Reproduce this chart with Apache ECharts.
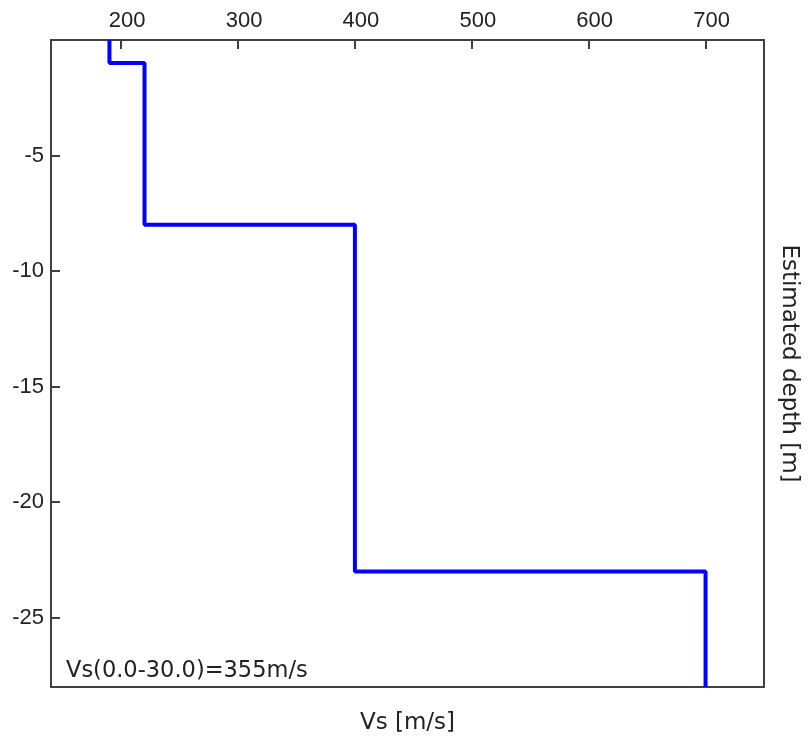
<!DOCTYPE html>
<html><head><meta charset="utf-8">
<script src="https://cdn.jsdelivr.net/npm/echarts@6/dist/echarts.min.js"></script>
<style>html,body{margin:0;padding:0;background:#fff}#c{width:808px;height:740px}</style>
</head><body><div id="c"></div>
<script>
// Layer shear-wave velocities (m/s), top to bottom
const layerVs = [190, 220, 400, 700];
// Layer boundary depths (m, negative downward)
const layerBoundaries = [0, -1, -8, -23, -28];
const xRange = [140, 750];
const yRange = [-28, 0];
const xTitle = 'Vs [m/s]';
const yTitle = 'Estimated depth [m]';
const annotation = 'Vs(0.0-30.0)=355m/s';

const points = [];
for (let i = 0; i < layerVs.length; i++) {
  points.push([layerVs[i], layerBoundaries[i]]);
  points.push([layerVs[i], layerBoundaries[i + 1]]);
}

const frameColor = '#404040';
const chart = echarts.init(document.getElementById('c'), null, {renderer: 'canvas'});
chart.setOption({
  animation: false,
  backgroundColor: '#fff',
  grid: {left: 51, right: 40, top: 40, bottom: 53, containLabel: false},
  xAxis: [{
    type: 'value', position: 'top', min: xRange[0], max: xRange[1],
    axisLine: {show: true, onZero: false, lineStyle: {color: frameColor, width: 2}},
    axisTick: {show: true, inside: true, length: 9, lineStyle: {color: frameColor, width: 2}},
    axisLabel: {fontSize: 22, fontFamily: 'Liberation Sans', color: '#222', margin: 8,
      padding: [0, 0, 0, 12],
      formatter: v => (v % 100 === 0 ? String(v) : '')},
    splitLine: {show: false}
  }, {
    type: 'value', position: 'bottom', min: xRange[0], max: xRange[1],
    axisLine: {show: true, onZero: false, lineStyle: {color: frameColor, width: 2}},
    axisTick: {show: false}, axisLabel: {show: false}, splitLine: {show: false},
    name: xTitle, nameLocation: 'middle', nameGap: 25,
    nameTextStyle: {fontSize: 23, fontFamily: 'DejaVu Sans', color: '#222'}
  }],
  yAxis: [{
    type: 'value', position: 'left', min: yRange[0], max: yRange[1],
    axisLine: {show: true, onZero: false, lineStyle: {color: frameColor, width: 2}},
    axisTick: {show: true, inside: true, length: 9, lineStyle: {color: frameColor, width: 2}},
    axisLabel: {fontSize: 22, fontFamily: 'Liberation Sans', color: '#222', margin: 7,
      formatter: v => ((v % 5 === 0 && v < 0) ? String(v) : '')},
    splitLine: {show: false}
  }, {
    type: 'value', position: 'right', min: yRange[0], max: yRange[1],
    axisLine: {show: true, onZero: false, lineStyle: {color: frameColor, width: 2}},
    axisTick: {show: false}, axisLabel: {show: false}, splitLine: {show: false},
    name: yTitle, nameLocation: 'middle', nameGap: 13, nameRotate: -90,
    nameTextStyle: {fontSize: 23, fontFamily: 'DejaVu Sans', color: '#222'}
  }],
  graphic: [{
    type: 'text', left: 66, top: 660,
    style: {text: annotation, font: '22.5px "DejaVu Sans"', fill: '#222'}
  }],
  series: [{
    type: 'line', xAxisIndex: 0, yAxisIndex: 0, data: points,
    showSymbol: false, symbol: 'none',
    lineStyle: {color: '#0000ff', width: 4}
  }]
});
</script></body></html>
